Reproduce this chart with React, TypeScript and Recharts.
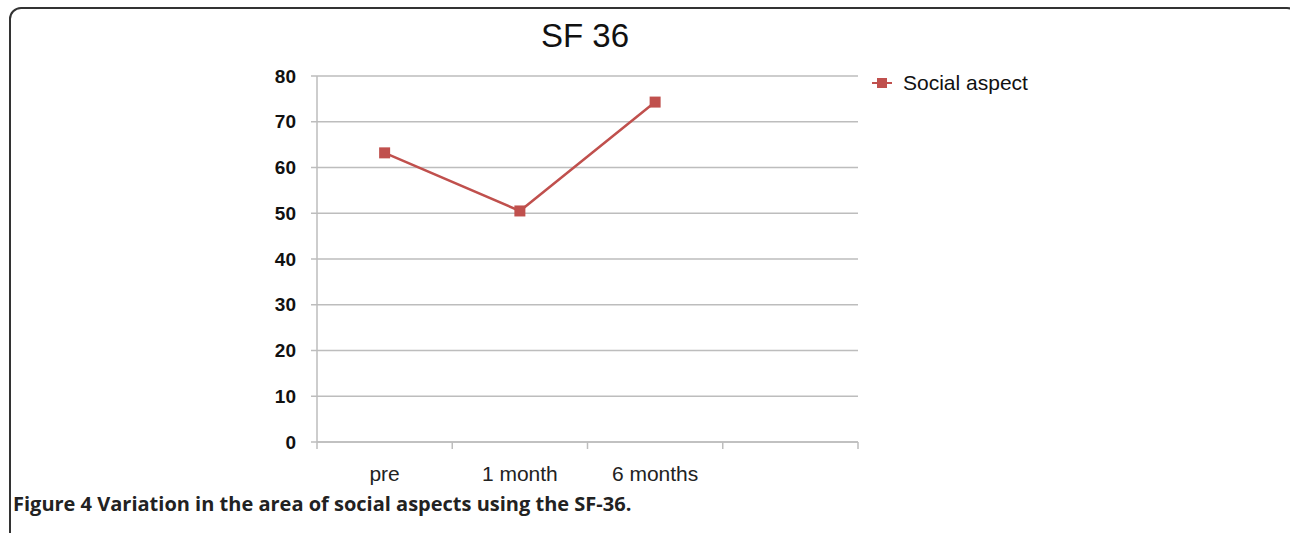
import { LineChart, Line, XAxis, YAxis, CartesianGrid } from 'recharts'

const categories = ['pre', '1 month', '6 months', '']
const socialAspect: (number | null)[] = [63.2, 50.5, 74.3, null]
const yTicks = [0, 10, 20, 30, 40, 50, 60, 70, 80]

const seriesName = 'Social aspect'
const chartTitle = 'SF 36'
const captionBold = 'Figure 4'
const captionText = 'Variation in the area of social aspects using the SF-36.'

const RED = '#c0504d'
const GRID = '#bdbdbd'

const data = categories.map((c, i) => ({ pos: i + 0.5, label: c, social: socialAspect[i] }))
// tick marks sit between categories, labels in the middle of each band
const xTicks: number[] = []
for (let i = 0; i <= categories.length * 2; i++) xTicks.push(i / 2)

function XTick(props: any) {
  const { x, y, payload } = props
  const v = payload.value as number
  if (Number.isInteger(v)) {
    return <line x1={x} x2={x} y1={y} y2={y + 7} stroke={GRID} strokeWidth={1.5} />
  }
  const label = categories[Math.floor(v)]
  return (
    <text x={x} y={y + 39} textAnchor="middle" fontSize={21} fill="#222"
      fontFamily="'Liberation Sans', Arial, sans-serif">
      {label}
    </text>
  )
}

function SquareDot(props: any) {
  const { cx, cy, index } = props
  if (cx == null || cy == null) return <g key={index} />
  return <rect key={index} x={cx - 5.5} y={cy - 5.5} width={11} height={11} fill={RED} />
}

export default function App() {
  return (
    <div style={{ position: 'absolute', left: 0, top: 0, width: 1290, height: 533, overflow: 'hidden', background: '#fff' }}>
      <div style={{
        position: 'absolute', left: 9, top: 7, width: 1290, height: 600,
        border: '2px solid #333', borderRadius: 12, boxSizing: 'border-box',
      }} />
      <div style={{
        position: 'absolute', left: 485, top: 17, width: 200, textAlign: 'center',
        fontFamily: "'Liberation Sans', Arial, sans-serif", fontSize: 33, color: '#111',
      }}>
        {chartTitle}
      </div>
      <div style={{ position: 'absolute', left: 0, top: 0 }}>
        <LineChart width={1290} height={533} data={data}
          margin={{ top: 76, right: 432, bottom: 51, left: 257 }}>
          <CartesianGrid vertical={false} stroke={GRID} strokeWidth={1.5} />
          <XAxis
            dataKey="pos"
            type="number"
            domain={[0, categories.length]}
            ticks={xTicks}
            interval={0}
            tick={<XTick />}
            tickLine={false}
            tickSize={0}
            tickMargin={0}
            height={40}
            stroke={GRID}
            strokeWidth={1.5}
          />
          <YAxis
            domain={[0, 80]}
            ticks={yTicks}
            interval={0}
            width={60}
            stroke={GRID}
            strokeWidth={1.5}
            tickSize={6}
            tickMargin={15}
            tick={{ fontSize: 19, fill: '#111', fontWeight: 700, fontFamily: "'Liberation Sans', Arial, sans-serif" }}
          />
          <Line
            type="linear"
            dataKey="social"
            name={seriesName}
            stroke={RED}
            strokeWidth={2.5}
            dot={<SquareDot />}
            activeDot={false}
            isAnimationActive={false}
          />
        </LineChart>
      </div>
      <div style={{
        position: 'absolute', left: 872, top: 71, display: 'flex', alignItems: 'center',
        fontFamily: "'Liberation Sans', Arial, sans-serif", fontSize: 21, color: '#111',
      }}>
        <svg width={22} height={12} style={{ marginRight: 9 }}>
          <line x1={0} x2={20} y1={6} y2={6} stroke={RED} strokeWidth={2} />
          <rect x={5} y={1} width={10} height={10} fill={RED} />
        </svg>
        {seriesName}
      </div>
      <div style={{
        position: 'absolute', left: 13, top: 490, whiteSpace: 'nowrap',
        fontFamily: "'Open Sans', sans-serif", fontWeight: 700, fontSize: 20, color: '#222',
      }}>
        {captionBold} {captionText}
      </div>
    </div>
  )
}
